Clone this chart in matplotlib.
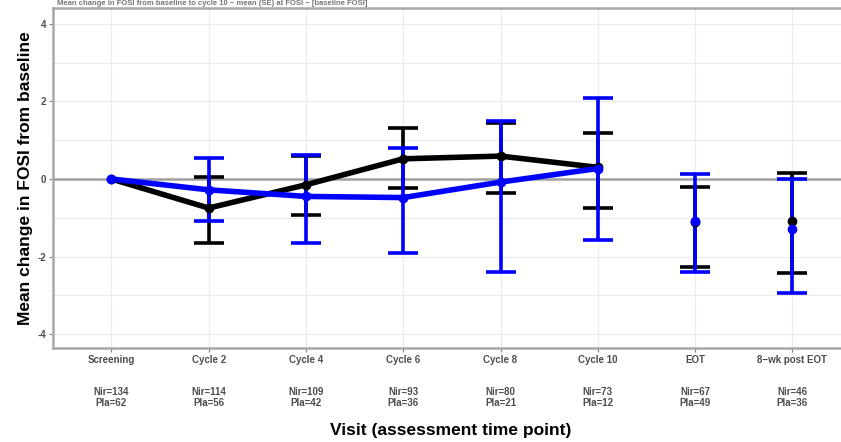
import numpy as np
import matplotlib
matplotlib.use('Agg')
import matplotlib.pyplot as plt

plt.rcParams['font.family'] = ['Liberation Sans', 'DejaVu Sans']
plt.rcParams['axes.unicode_minus'] = False

visits = ['Screening', 'Cycle 2', 'Cycle 4', 'Cycle 6', 'Cycle 8', 'Cycle 10', 'EOT', '8\u2212wk post EOT']
n_nir = [134, 114, 109, 93, 80, 73, 67, 46]
n_pla = [62, 56, 42, 36, 21, 12, 49, 36]

# mean change and error bar ends
nir_mean = [0.0, -0.75, -0.15, 0.52, 0.59, 0.30, -1.10, -1.08]
nir_upper = [0.0, 0.05, 0.60, 1.32, 1.45, 1.18, -0.20, 0.15]
nir_lower = [0.0, -1.65, -0.93, -0.23, -0.36, -0.75, -2.27, -2.43]

pla_mean = [0.0, -0.28, -0.45, -0.48, -0.08, 0.27, -1.08, -1.28]
pla_upper = [0.0, 0.55, 0.62, 0.80, 1.50, 2.10, 0.13, 0.00]
pla_lower = [0.0, -1.08, -1.65, -1.92, -2.40, -1.57, -2.40, -2.95]

n_line = 6  # screening .. cycle 10 are joined by a line

fig = plt.figure(figsize=(8.41, 4.42), dpi=100)
ax = fig.add_axes([53 / 841, 1 - 348 / 442, 1 - 53 / 841, 340 / 442])

x = np.arange(1, len(visits) + 1)

for mean, up, lo, col in [(nir_mean, nir_upper, nir_lower, 'black'),
                          (pla_mean, pla_upper, pla_lower, '#0000ff')]:
    mean = np.array(mean)
    err = [mean - np.array(lo), np.array(up) - mean]
    ax.errorbar(x[1:], mean[1:], yerr=[e[1:] for e in err], fmt='none',
                ecolor=col, elinewidth=2.6, capsize=11, capthick=2.6, zorder=3)
    ax.plot(x[:n_line], mean[:n_line], color=col, lw=4, solid_capstyle='round',
            zorder=4)
    ax.plot(x, mean, 'o', color=col, ms=6, zorder=5)

ax.axhline(0, color='#a0a0a0', lw=1.8, zorder=2)

ax.set_xlim(0.4, 8.5)
ax.set_ylim(-4.36, 4.41)
ax.set_yticks([-4, -2, 0, 2, 4])
ax.set_yticks([-3, -1, 1, 3], minor=True)
ax.set_xticks(x)
ax.set_xticklabels([f'{v}\n\n\nNir={a}\nPla={b}' for v, a, b in zip(visits, n_nir, n_pla)],
                   fontsize=7, fontweight='bold', color='#4d4d4d', linespacing=1.1)
for lab in ax.get_yticklabels():
    lab.set_fontsize(7)
    lab.set_fontweight('bold')
    lab.set_color('#4d4d4d')

ax.grid(True, which='both', color='#ebebeb', lw=0.8, zorder=0)
ax.tick_params(axis='both', which='major', color='#7f7f7f', length=3, width=0.8, pad=2)
ax.tick_params(axis='y', which='minor', length=0)

for side in ['top', 'left', 'bottom']:
    ax.spines[side].set_color('#a8a8a8')
    ax.spines[side].set_linewidth(1.8)
ax.spines['right'].set_visible(False)

ax.set_ylabel('Mean change in FOSI from baseline', fontsize=12.5, fontweight='bold', labelpad=3)
fig.text(0.536, 0.027, 'Visit (assessment time point)', fontsize=12.5, fontweight='bold',
         ha='center', va='center')

# faint title squeezed above the panel
fig.text(0.068, 0.999, 'Mean change in FOSI from baseline to cycle 10 \u2212 mean (SE) at FOSI \u2212 [baseline FOSI]',
         fontsize=5.5, fontweight='bold', color='#777777', va='top', ha='left')

fig.savefig('out.png', dpi=100)
